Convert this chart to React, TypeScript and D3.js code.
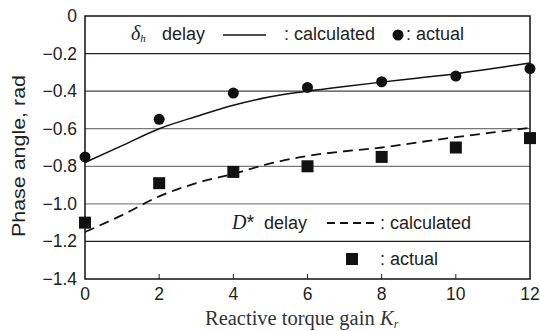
import React from "react";
import * as d3 from "d3";

const xTicks = [0, 2, 4, 6, 8, 10, 12];
const yTicks = [0, -0.2, -0.4, -0.6, -0.8, -1.0, -1.2, -1.4];
const yTickLabels = ["0", "\u22120.2", "\u22120.4", "\u22120.6", "\u22120.8", "\u22121.0", "\u22121.2", "\u22121.4"];

const actualX = [0, 2, 4, 6, 8, 10, 12];
const deltaActual = [-0.75, -0.55, -0.41, -0.38, -0.35, -0.32, -0.28];
const dstarActual = [-1.1, -0.89, -0.83, -0.8, -0.75, -0.7, -0.65];

const calcX = [0, 1, 2, 3, 4, 5, 6, 7, 8, 9, 10, 11, 12];
const deltaCalc = [-0.78, -0.69, -0.6, -0.535, -0.475, -0.43, -0.4, -0.375, -0.352, -0.33, -0.307, -0.28, -0.25];
const dstarCalc = [-1.15, -1.06, -0.96, -0.89, -0.84, -0.785, -0.745, -0.72, -0.7, -0.672, -0.645, -0.62, -0.595];

const gridColors: Record<string, string> = {
  "-0.2": "#222",
  "-0.4": "#444",
  "-0.6": "#777",
  "-0.8": "#777",
  "-1": "#888",
  "-1.2": "#222",
};

export default function App() {
  const W = 540, H = 331;
  const left = 85, right = 530, top = 16, bottom = 279;
  const x = d3.scaleLinear().domain([0, 12]).range([left, right]);
  const y = d3.scaleLinear().domain([-1.4, 0]).range([bottom, top]);
  const line = d3.line<number>().x((_, i) => x(calcX[i])).y((d) => y(d)).curve(d3.curveMonotoneX);
  const sans = "'Liberation Sans', Arial, sans-serif";
  const serif = "'Liberation Serif', 'Times New Roman', serif";
  const fs = 17.5;
  const lfs = 18;
  return (
    <svg width={W} height={H} style={{ position: "absolute", left: 0, top: 0, background: "#fff" }}>
      <rect x={0} y={0} width={W} height={H} fill="#fff" />
      {yTicks.slice(1, -1).map((t) => (
        <line key={t} x1={left} x2={right} y1={y(t)} y2={y(t)} stroke={gridColors[String(+t.toFixed(1))] || "#666"} strokeWidth={1.3} />
      ))}
      {xTicks.slice(1, -1).map((t) => (
        <line key={t} x1={x(t)} x2={x(t)} y1={bottom} y2={bottom - 5} stroke="#222" strokeWidth={1} />
      ))}
      <rect x={left} y={top} width={right - left} height={bottom - top} fill="none" stroke="#111" strokeWidth={1.5} />
      {yTicks.map((t, i) => (
        <text key={t} x={77} y={y(t) + 6} textAnchor="end" fontFamily={sans} fontSize={fs} fill="#222">
          {yTickLabels[i]}
        </text>
      ))}
      {xTicks.map((t) => (
        <text key={t} x={x(t)} y={300} textAnchor="middle" fontFamily={sans} fontSize={fs} fill="#222">
          {t}
        </text>
      ))}
      <path d={line(deltaCalc) || ""} fill="none" stroke="#111" strokeWidth={1.5} />
      <path d={line(dstarCalc) || ""} fill="none" stroke="#111" strokeWidth={1.8} strokeDasharray="10 6" />
      {deltaActual.map((v, i) => (
        <circle key={i} cx={x(actualX[i])} cy={y(v)} r={5.5} fill="#111" />
      ))}
      {dstarActual.map((v, i) => (
        <rect key={i} x={x(actualX[i]) - 6} y={y(v) - 6} width={12} height={12} fill="#111" />
      ))}
      {/* legend 1 */}
      <text x={131} y={40} fontFamily={serif} fontSize={20} fontStyle="italic" fill="#222">
        δ<tspan fontSize={11} dy={2}>h</tspan>
      </text>
      <text x={162} y={40} fontFamily={sans} fontSize={lfs} fill="#222">delay</text>
      <line x1={223} x2={266} y1={35} y2={35} stroke="#111" strokeWidth={1.3} />
      <text x={284} y={40} fontFamily={sans} fontSize={lfs} fill="#222">: calculated</text>
      <circle cx={398} cy={35} r={5.5} fill="#111" />
      <text x={406} y={40} fontFamily={sans} fontSize={lfs} fill="#222">: actual</text>
      {/* legend 2 */}
      <text x={232} y={229} fontFamily={serif} fontSize={20} fontStyle="italic" fill="#222">
        D<tspan fontStyle="normal" fontFamily={sans}>*</tspan>
      </text>
      <text x={264} y={229} fontFamily={sans} fontSize={lfs} fill="#222">delay</text>
      <line x1={327} x2={374} y1={223} y2={223} stroke="#111" strokeWidth={1.8} strokeDasharray="8 5" />
      <text x={380} y={229} fontFamily={sans} fontSize={lfs} fill="#222">: calculated</text>
      <rect x={346} y={253} width={12} height={12} fill="#111" />
      <text x={380} y={265} fontFamily={sans} fontSize={lfs} fill="#222">: actual</text>
      {/* axis titles */}
      <text transform={`translate(25,156) rotate(-90)`} textAnchor="middle" fontFamily={sans} fontSize={19} fill="#222" textLength={162} lengthAdjust="spacingAndGlyphs">
        Phase angle, rad
      </text>
      <text x={205} y={325} fontFamily={serif} fontSize={20.5} fill="#333">
        Reactive torque gain
      </text>
      <text x={380} y={325} fontFamily={serif} fontSize={20.5} fill="#333">
        <tspan fontStyle="italic">K</tspan><tspan fontStyle="italic" fontSize={12} dy={3}>r</tspan>
      </text>
    </svg>
  );
}
